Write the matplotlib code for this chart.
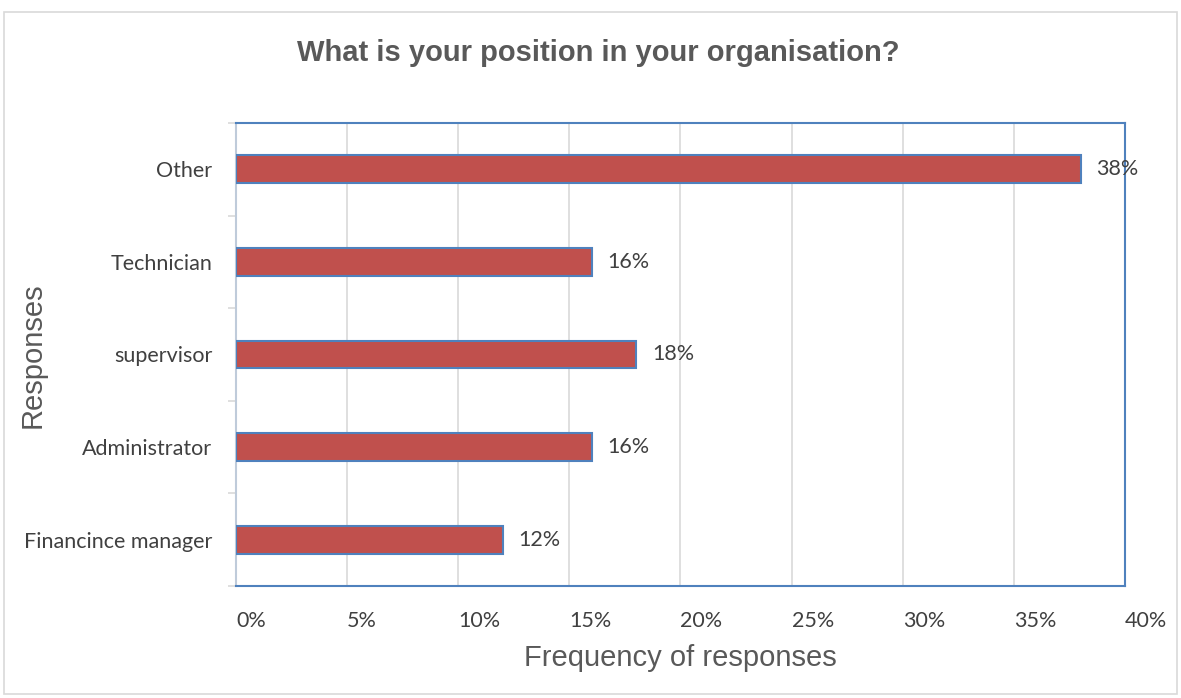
import matplotlib
matplotlib.use("Agg")
import matplotlib.pyplot as plt
from matplotlib.patches import Rectangle
from matplotlib.ticker import FixedLocator, PercentFormatter

categories = ["Financince manager", "Administrator", "supervisor", "Technician", "Other"]
shares = [12, 16, 18, 16, 38]
x_ticks = [0, 5, 10, 15, 20, 25, 30, 35, 40]

W, H = 1181, 698
fig = plt.figure(figsize=(W / 100, H / 100), dpi=100)
fig.patch.set_facecolor("white")

# outer chart frame
fig.add_artist(Rectangle((4 / W, 4 / H), (W - 8) / W, (H - 16) / H,
                         transform=fig.transFigure, fill=False,
                         edgecolor="#D9D9D9", linewidth=1.2))

ax = fig.add_axes([236 / W, 1 - 586 / H, (1125 - 236) / W, (586 - 123) / H])

tick_font = "Lato"
text_col = "#404040"
label_size = 15.5

ypos = list(range(len(categories)))
ax.barh(ypos, shares, height=0.3, color="#C0504D", edgecolor="#4F81BD",
        linewidth=1.5, zorder=3)

for y, v in zip(ypos, shares):
    ax.text(v + 0.72, y, f"{v}%", va="center", ha="left", fontsize=label_size,
            family=tick_font, color=text_col, zorder=4)

ax.set_xlim(0, 40)
ax.set_ylim(-0.5, len(categories) - 0.5)
ax.xaxis.set_major_locator(FixedLocator(x_ticks))
ax.xaxis.set_major_formatter(PercentFormatter(decimals=0))
ax.grid(axis="x", color="#D9D9D9", linewidth=1.2, zorder=0)
ax.set_axisbelow(True)

ax.set_yticks(ypos)
ax.set_yticklabels(categories)
ax.set_yticks([i - 0.5 for i in range(len(categories) + 1)], minor=True)
ax.tick_params(axis="y", which="major", length=0, pad=17, labelsize=label_size,
               labelcolor=text_col)
ax.tick_params(axis="y", which="minor", length=6, color="#D9D9D9", width=1.2)
ax.tick_params(axis="x", which="major", length=0, pad=18, labelsize=label_size,
               labelcolor=text_col)
for lbl in ax.get_xticklabels() + ax.get_yticklabels():
    lbl.set_family(tick_font)
for lbl in ax.get_xticklabels():
    lbl.set_ha("left")

for side in ["top", "right", "bottom"]:
    ax.spines[side].set_color("#4F81BD")
    ax.spines[side].set_linewidth(1.5)
ax.spines["left"].set_color("#BFCBDA")
ax.spines["left"].set_linewidth(1.5)

fig.text(680 / W, 1 - 658 / H, "Frequency of responses", ha="center",
         va="center", fontsize=21, family="Liberation Sans", color="#595959")
fig.text(33 / W, 1 - 355 / H, "Responses", ha="center", va="center",
         rotation=90, fontsize=21, family="Liberation Sans", color="#595959")

fig.text(598 / W, 1 - 53 / H, "What is your position in your organisation?",
         ha="center", va="center", fontsize=21, fontweight="bold",
         family="Liberation Sans", color="#595959")

fig.savefig("out.png", dpi=100)
